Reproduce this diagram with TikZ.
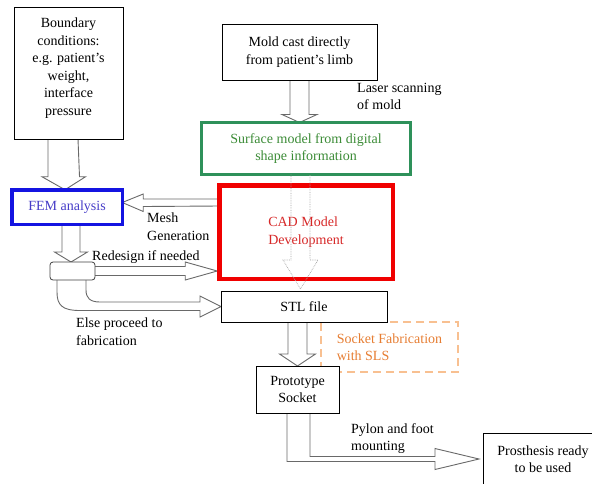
\documentclass[tikz,border=0pt]{standalone}
\usepackage{fontspec}
\setmainfont{Liberation Serif}
\usetikzlibrary{calc,backgrounds}
\definecolor{boxgreen}{RGB}{46,145,90}
\definecolor{textgreen}{RGB}{60,140,55}
\definecolor{boxblue}{RGB}{20,20,225}
\definecolor{textblue}{RGB}{70,60,200}
\definecolor{boxred}{RGB}{240,0,0}
\definecolor{textred}{RGB}{215,40,40}
\definecolor{dashorange}{RGB}{248,192,145}
\definecolor{textorange}{RGB}{230,125,50}
\definecolor{arrowgray}{RGB}{105,105,105}
\begin{document}
\begin{tikzpicture}[x=1pt,y=-1pt,
  font=\fontsize{14}{17.5}\selectfont,
  box/.style={draw=black, line width=1pt, fill=white, align=center, inner sep=2pt, outer sep=0pt},
  blk/.style={draw=arrowgray, line width=0.9pt, fill=white, line join=miter},
  dotarrow/.style={draw=gray!70, densely dotted, line width=0.7pt},
  lbl/.style={align=left, inner sep=0pt, anchor=north west}]
\useasboundingbox (0,0) rectangle (592,483);
\clip (0,0) rectangle (592,483);

% boxes
\node[box, minimum width=109, minimum height=132, text depth=13pt] (bc) at (68.5,73)
  {Boundary\\conditions:\\e.g. patient’s\\weight,\\interface\\pressure};
\node[box, minimum width=155, minimum height=56] (mold) at (299.5,52)
  {Mold cast directly\\from patient’s limb};
\node[box, draw=boxgreen, line width=3pt, text=textgreen, minimum width=209, minimum height=52] (surf) at (306,148.5)
  {Surface model from digital\\shape information};
\node[box, draw=boxblue, line width=3.5pt, text=textblue, minimum width=110.5, minimum height=34.5] (fem) at (67,207)
  {FEM analysis};
\node[box, draw=boxred, line width=4.5pt, text=textred, align=left, minimum width=173.5, minimum height=93.5] (cad) at (306,232)
  {CAD Model\\Development};
\node[draw=black!75, line width=0.8pt, fill=white, rounded corners=3pt, minimum width=45, minimum height=18, inner sep=0pt, outer sep=0pt] (dec) at (72.5,271) {};
\node[draw=dashorange, line width=2pt, dash pattern=on 8pt off 5pt, text=textorange, align=left, minimum width=137, minimum height=50, inner sep=0pt, outer sep=0pt] (sls) at (389.5,347)
  {Socket Fabrication\\with SLS};
\node[box, minimum width=166, minimum height=31] (stl) at (304,306.5) {STL file};
\node[box, minimum width=83, minimum height=47] (proto) at (297.5,389.5) {Prototype\\Socket};
\node[box, anchor=north west, minimum width=120, minimum height=52] (pros) at (483,433)
  {Prosthesis ready\\to be used};

% labels
\node[lbl] (laser) at (357,83) {Laser scanning\\of mold};
\node[lbl] (mesh) at (147,213) {Mesh\\Generation};
\node[lbl] (redes) at (92,250) {Redesign if needed};
\node[lbl] (else) at (76,318) {Else proceed to\\fabrication};
\node[lbl] (pylon) at (351,423) {Pylon and foot\\mounting};

% hollow block arrows (behind boxes)
\begin{scope}[on background layer]
\draw[blk] ($(mold.south)+(-9.5,0)$) -- ($(mold.south|-surf.north)+(-9.5,-8)$) -- ++(-8,0)
  -- (mold.south|-surf.north) -- ++(17.5,-8) -- ++(-8,0) -- ($(mold.south)+(9.5,0)$);
\draw[blk] ($(bc.south)+(-20.5,0)$) -- ($(bc.south|-fem.north)+(-20.5,-13)$) -- ++(-6,0)
  -- ($(bc.south|-fem.north)+(-3.5,0)$) -- ++(20.5,-13) -- ++(-6,0) -- ($(bc.south)+(9.5,0)$);
\draw[blk] ($(fem.south|-fem.south)+(-5,0)$) -- ($(dec.north)+(-10.5,-10)$) -- ++(-7.5,0)
  -- ($(dec.north)+(-1.5,0)$) -- ++(16.5,-10) -- ++(-7.5,0) -- ($(fem.south)+(13,0)$);
\draw[blk] ($(cad.west)+(0,-33)$) -- ($(fem.east)+(21,-8)$) -- ++(0,-5)
  -- ($(fem.east)+(0,-4.5)$) -- ++(21,9) -- ++(0,-5) -- ($(cad.west)+(0,-26)$);
\draw[blk] ($(dec.east)+(0,-4.5)$) -- ($(cad.west|-dec.east)+(-34,-4.5)$) -- ++(0,-4.5)
  -- ($(cad.west|-dec.east)+(-2,0)$) -- ++(-32,9) -- ++(0,-4.5) -- ($(dec.east)+(0,4.5)$);
\draw[blk] ($(dec.south)+(-15.5,0)$) -- (57,292) .. controls (57,305) and (62,310.5) .. (80,310.5)
  -- ($(stl.west)+(-21,4)$) -- ++(0,6.5) -- (stl.west) -- ++(-21,-10.5) -- ++(0,6)
  -- (100,302) .. controls (90,302) and (86,298) .. (86,290) -- ($(dec.south)+(13.5,0)$);
\draw[blk] ($(stl.south-|proto.north)+(-9.5,0)$) -- ($(proto.north)+(-9.5,-12)$) -- ++(-8.5,0)
  -- (proto.north) -- ++(18,-12) -- ++(-8.5,0) -- ($(stl.south-|proto.north)+(9.5,0)$);
\draw[blk] ($(proto.south)+(-10.5,0)$) -- ($(proto.south|-pros.west)+(-10.5,2.5)$)
  -- ($(pros.west)+(-48,2.5)$) -- ++(0,8) -- ($(pros.west)+(-4,0)$) -- ++(-44,-10.5) -- ++(0,8)
  -- ($(proto.south|-pros.west)+(12.5,-2.5)$) -- ($(proto.south)+(12.5,0)$);
\end{scope}

% dotted arrow through the CAD box
\draw[dotarrow] ($(surf.south)+(-15,0)$) -- ($(stl.north)+(-13,-31)$) -- ++(-8,0)
  -- ($(stl.north)+(-3.5,-2)$) -- ++(17.5,-29) -- ++(-8,0) -- ($(surf.south)+(4,0)$);
\end{tikzpicture}
\end{document}
